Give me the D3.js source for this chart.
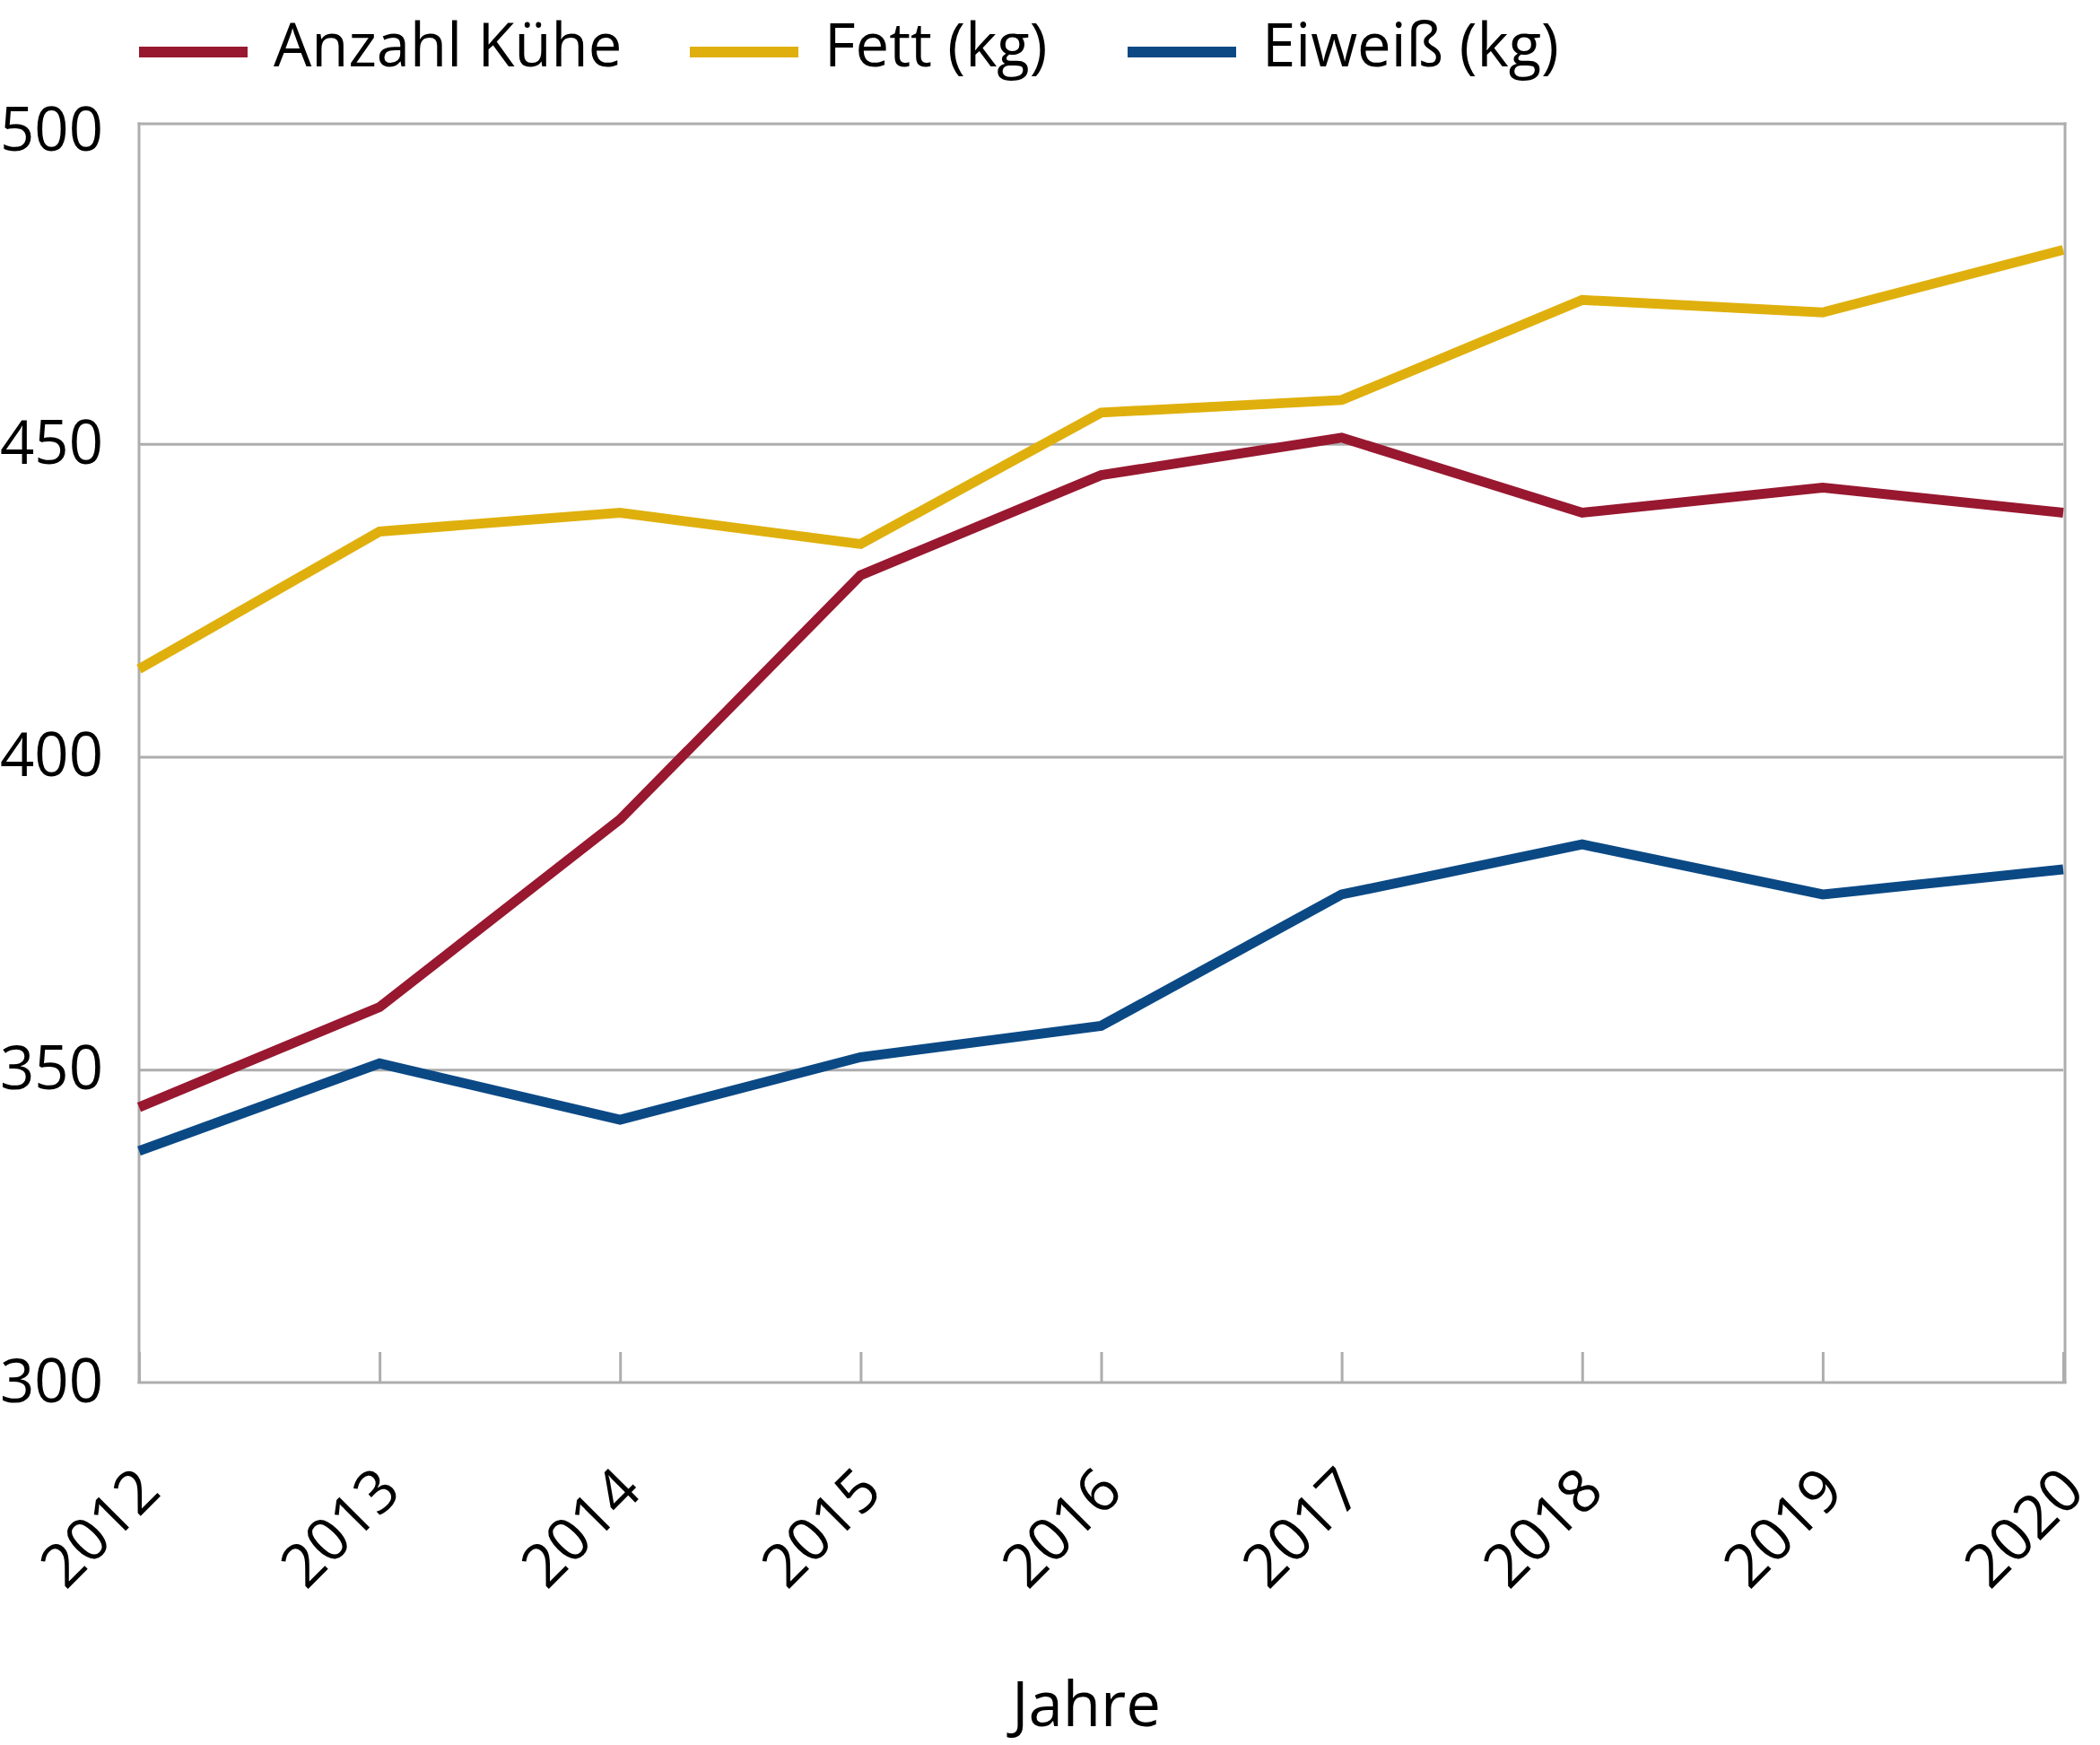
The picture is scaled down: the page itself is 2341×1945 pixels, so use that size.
<!DOCTYPE html>
<html>
<head>
<meta charset="utf-8">
<script src="https://cdn.jsdelivr.net/npm/d3@7"></script>
<style>
  html, body { margin: 0; padding: 0; background: #fff; }
  svg { display: block; }
  text { font-family: "Open Sans", "Noto Sans", sans-serif; fill: #000; }
</style>
</head>
<body>
<svg id="chart" width="2341" height="1945"></svg>
<script>
// ---------- data ----------
const years = [2012, 2013, 2014, 2015, 2016, 2017, 2018, 2019, 2020];
const kuehe = [344, 360, 390, 429, 445, 451, 439, 443, 439];
const fett = [414, 436, 439, 434, 455, 457, 473, 471, 481];
const eiweiss = [337, 351, 342, 352, 357, 378, 386, 378, 382];
const seriesNames = ["Anzahl Kühe", "Fett (kg)", "Eiweiß (kg)"];
const yTicks = [300, 350, 400, 450, 500];
const xTitle = "Jahre";

// ---------- styling / layout ----------
const colors = ["#981830", "#DFB00D", "#0B4985"];
const gridColor = "#adadad";
const plotLeft = 155, plotRight = 2300, plotTop = 146, plotBottom = 1541, frameTop = 138;
const fontSize = 67;
const fontFam = '"Open Sans", "Noto Sans", sans-serif';

const svg = d3.select("#chart");

const x = d3.scaleLinear().domain([years[0], years[years.length - 1]]).range([plotLeft, plotRight]);
const y = d3.scaleLinear().domain([300, 500]).range([plotBottom, plotTop]);

// gridlines
svg.append("g")
  .attr("transform", `translate(${plotLeft},0)`)
  .call(d3.axisLeft(y).tickValues(yTicks.slice(1, -1)).tickSize(-(plotRight - plotLeft)).tickFormat(""))
  .call(g => g.select(".domain").remove())
  .call(g => g.selectAll("line").attr("stroke", gridColor).attr("stroke-width", 3));

// frame
const frame = svg.append("g").attr("stroke", gridColor).attr("stroke-width", 3).attr("fill", "none");
frame.append("line").attr("x1", plotLeft - 1.5).attr("x2", plotRight + 3.5).attr("y1", frameTop).attr("y2", frameTop);
frame.append("line").attr("x1", plotRight + 2).attr("x2", plotRight + 2).attr("y1", frameTop - 1.5).attr("y2", plotBottom + 1);
frame.append("line").attr("x1", plotLeft).attr("x2", plotLeft).attr("y1", frameTop - 1.5).attr("y2", plotBottom + 1);

// y axis labels
svg.append("g")
  .attr("transform", `translate(${plotLeft},0)`)
  .call(d3.axisLeft(y).tickValues(yTicks).tickSize(0).tickPadding(40))
  .call(g => g.select(".domain").remove())
  .call(g => g.selectAll("text")
    .attr("font-size", fontSize)
    .attr("font-family", fontFam)
    .attr("fill", "#000"));

// x axis
svg.append("g")
  .attr("transform", `translate(0,${plotBottom})`)
  .call(d3.axisBottom(x).tickValues(years).tickFormat(d3.format("d")).tickSizeInner(-34).tickSizeOuter(0))
  .call(g => g.select(".domain").attr("stroke", gridColor).attr("stroke-width", 3)
    .attr("d", `M${plotLeft - 1.5},0H${plotRight + 3.5}`))
  .call(g => g.selectAll(".tick line").attr("stroke", gridColor).attr("stroke-width", 3))
  .call(g => g.selectAll("text")
    .attr("font-size", fontSize)
    .attr("font-family", fontFam)
    .attr("fill", "#000")
    .attr("y", 0).attr("dy", 0)
    .attr("text-anchor", "end")
    .attr("transform", "translate(26,124) rotate(-45)"));

// axis title
svg.append("text")
  .attr("x", 1211).attr("y", 1924)
  .attr("text-anchor", "middle")
  .attr("font-size", fontSize + 2)
  .attr("font-family", fontFam)
  .text(xTitle);

// lines
const allSeries = [kuehe, fett, eiweiss];
const line = d3.line().x((d, i) => x(years[i])).y(d => y(d));
svg.append("g").selectAll("path")
  .data(allSeries)
  .join("path")
  .attr("d", d => line(d))
  .attr("fill", "none")
  .attr("stroke", (d, i) => colors[i])
  .attr("stroke-width", 11)
  .attr("stroke-linejoin", "miter");

// legend
const legendX = [155, 769, 1257];
const legendBaseline = 74;
const legend = svg.append("g");
seriesNames.forEach((name, i) => {
  legend.append("line")
    .attr("x1", legendX[i]).attr("x2", legendX[i] + 121)
    .attr("y1", legendBaseline - 16).attr("y2", legendBaseline - 16)
    .attr("stroke", colors[i]).attr("stroke-width", 12);
  legend.append("text")
    .attr("x", legendX[i] + 150).attr("y", legendBaseline)
    .attr("font-size", fontSize)
    .attr("font-family", fontFam)
    .text(name);
});
</script>
</body>
</html>
